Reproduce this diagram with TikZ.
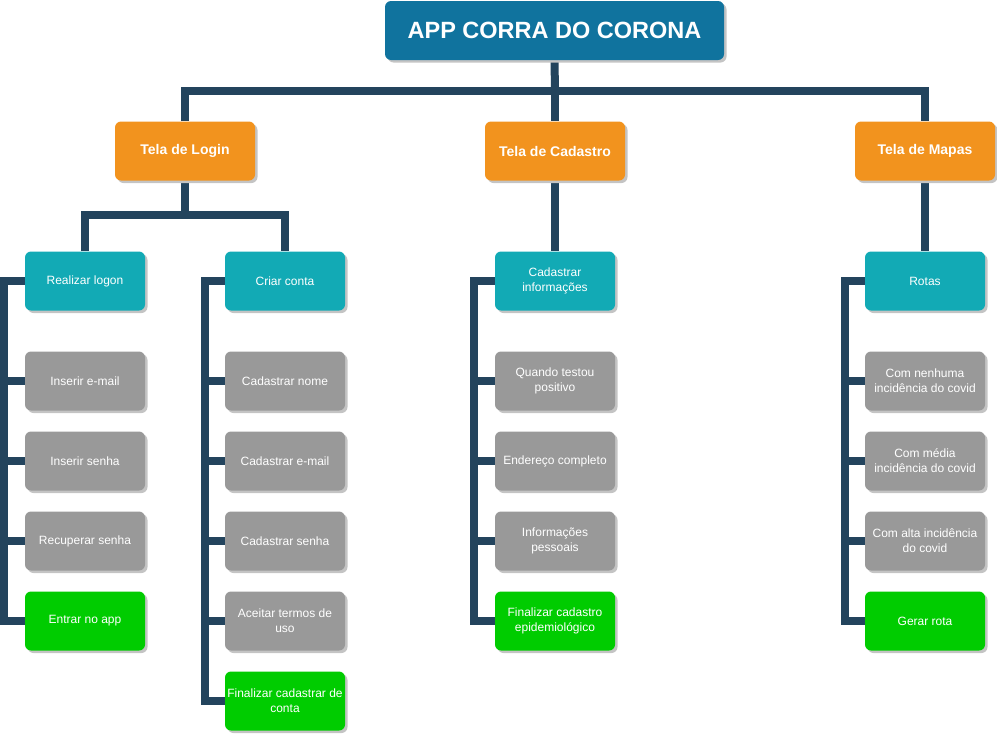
\documentclass[tikz,border=0pt]{standalone}
\usepackage{fontspec}
\setmainfont{Liberation Sans}
\usetikzlibrary{shadows,backgrounds}
\definecolor{rootc}{HTML}{10739E}
\definecolor{orangec}{HTML}{F2931E}
\definecolor{tealc}{HTML}{12AAB5}
\definecolor{grayc}{HTML}{999999}
\definecolor{greenc}{HTML}{00CC00}
\definecolor{linec}{HTML}{23445D}
\definecolor{shadowc}{HTML}{C4C4C4}
\tikzset{
  basebox/.style={rounded corners=6pt, inner sep=0pt, align=center, text=white, draw=none,
    drop shadow={shadow xshift=2.5pt, shadow yshift=-2.5pt, fill=shadowc, opacity=1}},
  rootbox/.style={basebox, fill=rootc, minimum width=339pt, minimum height=59pt,
    font=\fontsize{23.5}{28}\selectfont\bfseries},
  screenbox/.style={basebox, fill=orangec, minimum width=140pt, minimum height=59pt,
    font=\fontsize{14}{17}\selectfont\bfseries},
  subbox/.style={basebox, minimum width=120pt, minimum height=59pt,
    font=\fontsize{12}{15}\selectfont},
  headbox/.style={subbox, fill=tealc},
  itembox/.style={subbox, fill=grayc},
  endbox/.style={subbox, fill=greenc},
  conn/.style={draw=linec, line width=8pt, line join=miter, line cap=butt},
}
\begin{document}
\begin{tikzpicture}[x=1pt, y=-1pt]
\useasboundingbox (0,0) rectangle (997,734);
% root and screens
\node[rootbox] (root) at (554.5,30.5) {APP CORRA DO CORONA};
\node[screenbox] (login) at (185,151) {Tela de Login};
\node[screenbox] (cad) at (555,151) {Tela de Cadastro};
\node[screenbox] (mapas) at (925,151) {Tela de Mapas};
% column heads
\node[headbox] (logon) at (85,281) {Realizar logon};
\node[headbox] (criar) at (285,281) {Criar conta};
\node[headbox] (cinfo) at (555,281) {Cadastrar\\informações};
\node[headbox] (rotas) at (925,281) {Rotas};
% login column
\node[itembox] (lemail) at (85,381) {Inserir e-mail};
\node[itembox] (lsenha) at (85,461) {Inserir senha};
\node[itembox] (lrec) at (85,541) {Recuperar senha};
\node[endbox] (lentrar) at (85,621) {Entrar no app};
% criar conta column
\node[itembox] (cnome) at (285,381) {Cadastrar nome};
\node[itembox] (cemail) at (285,461) {Cadastrar e-mail};
\node[itembox] (csenha) at (285,541) {Cadastrar senha};
\node[itembox] (ctermos) at (285,621) {Aceitar termos de\\uso};
\node[endbox] (cfim) at (285,701) {Finalizar cadastrar de\\conta};
% cadastro column
\node[itembox] (dpos) at (555,381) {Quando testou\\positivo};
\node[itembox] (dend) at (555,461) {Endereço completo};
\node[itembox] (dpess) at (555,541) {Informações\\pessoais};
\node[endbox] (dfim) at (555,621) {Finalizar cadastro\\epidemiológico};
% mapas column
\node[itembox] (mnen) at (925,381) {Com nenhuma\\incidência do covid};
\node[itembox] (mmed) at (925,461) {Com média\\incidência do covid};
\node[itembox] (malta) at (925,541) {Com alta incidência\\do covid};
\node[endbox] (mgerar) at (925,621) {Gerar rota};
% hubs
\coordinate (hubA) at (555,91);
\coordinate (hubB) at (185,215);
\coordinate (colA) at (4,0);
\coordinate (colB) at (204.5,0);
\coordinate (colC) at (474,0);
\coordinate (colD) at (844.5,0);
\begin{scope}[on background layer]
% tree connectors
\draw[conn] (root.south) -- (hubA);
\draw[conn] (login.north) |- (hubA) -| (mapas.north);
\draw[conn] (hubA) -- (cad.north);
\draw[conn] (login.south) -- (hubB);
\draw[conn] (logon.north) |- (hubB) -| (criar.north);
\draw[conn] (cad.south) -- (cinfo.north);
\draw[conn] (mapas.south) -- (rotas.north);
% column connectors
\draw[conn] (logon.west) -| (colA |- lentrar.west) -- (lentrar.west);
\draw[conn] (colA |- lemail.west) -- (lemail.west);
\draw[conn] (colA |- lsenha.west) -- (lsenha.west);
\draw[conn] (colA |- lrec.west) -- (lrec.west);
\draw[conn] (criar.west) -| (colB |- cfim.west) -- (cfim.west);
\draw[conn] (colB |- cnome.west) -- (cnome.west);
\draw[conn] (colB |- cemail.west) -- (cemail.west);
\draw[conn] (colB |- csenha.west) -- (csenha.west);
\draw[conn] (colB |- ctermos.west) -- (ctermos.west);
\draw[conn] (cinfo.west) -| (colC |- dfim.west) -- (dfim.west);
\draw[conn] (colC |- dpos.west) -- (dpos.west);
\draw[conn] (colC |- dend.west) -- (dend.west);
\draw[conn] (colC |- dpess.west) -- (dpess.west);
\draw[conn] (rotas.west) -| (colD |- mgerar.west) -- (mgerar.west);
\draw[conn] (colD |- mnen.west) -- (mnen.west);
\draw[conn] (colD |- mmed.west) -- (mmed.west);
\draw[conn] (colD |- malta.west) -- (malta.west);
\end{scope}
\end{tikzpicture}
\end{document}
